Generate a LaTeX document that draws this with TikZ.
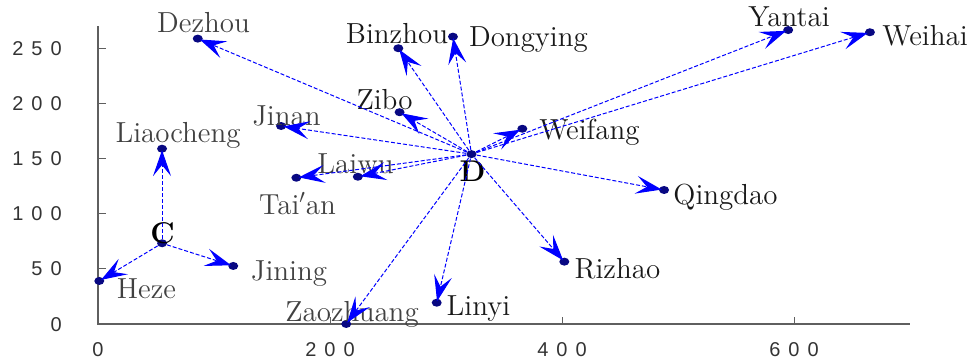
\documentclass[tikz,border=0pt]{standalone}
\usepackage{fontspec}
\usepackage{xcolor}
\usetikzlibrary{arrows.meta, shapes.geometric}
\newfontfamily\tickfont[LetterSpace=40]{Liberation Sans}
\definecolor{dotblue}{RGB}{8,8,130}
\definecolor{axisgray}{RGB}{95,95,95}
\definecolor{namegray}{RGB}{65,65,65}
\tikzset{
  city/.style={ellipse, fill=dotblue, inner sep=0pt, minimum width=5pt, minimum height=4pt},
  link/.style={draw=blue, line width=0.5pt, dash pattern=on 2pt off 1pt,
    -{Stealth[length=13pt, width=9pt, inset=5.5pt, fill=blue, sep=-1.5pt]}},
  cityname/.style={font=\fontsize{14.5}{16}\selectfont, text=black!90, inner sep=0pt},
  grayname/.style={cityname, text=namegray},
  hub/.style={font=\fontsize{15}{16}\selectfont\bfseries, inner sep=0pt},
  ticklabel/.style={font=\tickfont\fontsize{10}{10}\selectfont, text=black!80, inner sep=0pt}
}

\begin{document}
\begin{tikzpicture}[x=0.58pt, y=0.5515pt]
  \useasboundingbox (-84.48,-36.27) rectangle (757.76,293.74);
  % axes
  \draw[axisgray, line width=0.75pt] (0,270) -- (0,0) -- (700,0);
  \draw[shift={(200,0)},axisgray] (0pt,0pt) -- (0pt,3.5pt);
  \draw[shift={(400,0)},axisgray] (0pt,0pt) -- (0pt,3.5pt);
  \draw[shift={(600,0)},axisgray] (0pt,0pt) -- (0pt,3.5pt);
  \draw[shift={(0,50)},axisgray] (0pt,0pt) -- (4pt,0pt);
  \draw[shift={(0,100)},axisgray] (0pt,0pt) -- (4pt,0pt);
  \draw[shift={(0,150)},axisgray] (0pt,0pt) -- (4pt,0pt);
  \draw[shift={(0,200)},axisgray] (0pt,0pt) -- (4pt,0pt);
  \draw[shift={(0,250)},axisgray] (0pt,0pt) -- (4pt,0pt);
  \node[ticklabel] (xt0) at (0,-23.6) {0};
  \node[ticklabel] (xt200) at (200,-23.6) {200};
  \node[ticklabel] (xt400) at (400,-23.6) {400};
  \node[ticklabel] (xt600) at (600,-23.6) {600};
  \node[ticklabel, anchor=east] (yt0) at (-31,-1) {0};
  \node[ticklabel, anchor=east] (yt50) at (-31,50) {50};
  \node[ticklabel, anchor=east] (yt100) at (-31,100) {100};
  \node[ticklabel, anchor=east] (yt150) at (-31,150) {150};
  \node[ticklabel, anchor=east] (yt200) at (-31,200) {200};
  \node[ticklabel, anchor=east] (yt250) at (-31,250) {250};

  % cities
  \node[city] (C) at (55.2,73.2) {};
  \node[city] (D) at (322,154) {};
  \node[city] (liaocheng) at (55.2,158.9) {};
  \node[city] (heze) at (1.1,39) {};
  \node[city] (jining) at (116.6,52.6) {};
  \node[city] (dezhou) at (86,258.7) {};
  \node[city] (jinan) at (157.8,179.5) {};
  \node[city] (taian) at (171,132.6) {};
  \node[city] (laiwu) at (224,133.5) {};
  \node[city] (zibo) at (260,192) {};
  \node[city] (binzhou) at (258.9,250) {};
  \node[city] (dongying) at (306,260.5) {};
  \node[city] (weifang) at (365.8,177) {};
  \node[city] (yantai) at (595,266.5) {};
  \node[city] (weihai) at (665.5,264.5) {};
  \node[city] (qingdao) at (488,121.5) {};
  \node[city] (rizhao) at (402,56.5) {};
  \node[city] (linyi) at (292,19.3) {};
  \node[city] (zaozhuang) at (214,0) {};

  % names
  \node[hub] (Clbl) at (55.6,82) {C};
  \node[hub] (Dlbl) at (322.8,138.7) {D};
  \node[grayname] (liaochenglbl) at (69,171.4) {Liaocheng};
  \node[grayname] (hezelbl) at (41.8,32.2) {Heze};
  \node[grayname] (jininglbl) at (164.7,45.8) {Jining};
  \node[grayname] (dezhoulbl) at (91,272.9) {Dezhou};
  \node[grayname] (jinanlbl) at (162.5,188.6) {Jinan};
  \node[grayname] (taianlbl) at (172,109.2) {Tai$'$an};
  \node[grayname] (laiwulbl) at (222,145.1) {Laiwu};
  \node[cityname] (zibolbl) at (247,203.1) {Zibo};
  \node[cityname] (binzhoulbl) at (257.8,262.9) {Binzhou};
  \node[cityname] (dongyinglbl) at (371.1,257.5) {Dongying};
  \node[cityname] (weifanglbl) at (423.7,174.1) {Weifang};
  \node[cityname] (yantailbl) at (595.7,278.3) {Yantai};
  \node[cityname] (weihailbl) at (713,261.1) {Weihai};
  \node[cityname] (qingdaolbl) at (541,115.1) {Qingdao};
  \node[cityname] (rizhaolbl) at (447.8,50.3) {Rizhao};
  \node[cityname] (linyilbl) at (328,14.1) {Linyi};
  \node[grayname] (zaozhuanglbl) at (219,8.6) {Zaozhuang};

  % links from C
  \draw[link] (C) -- (liaocheng);
  \draw[link] (C) -- (heze);
  \draw[link] (C) -- (jining);
  % links from D
  \draw[link] (D) -- (dezhou);
  \draw[link] (D) -- (jinan);
  \draw[link] (D) -- (taian);
  \draw[link] (D) -- (laiwu);
  \draw[link] (D) -- (zibo);
  \draw[link] (D) -- (binzhou);
  \draw[link] (D) -- (dongying);
  \draw[link] (D) -- (weifang);
  \draw[link] (D) -- (yantai);
  \draw[link] (D) -- (weihai);
  \draw[link] (D) -- (qingdao);
  \draw[link] (D) -- (rizhao);
  \draw[link] (D) -- (linyi);
  \draw[link] (D) -- (zaozhuang);
\end{tikzpicture}
\end{document}
